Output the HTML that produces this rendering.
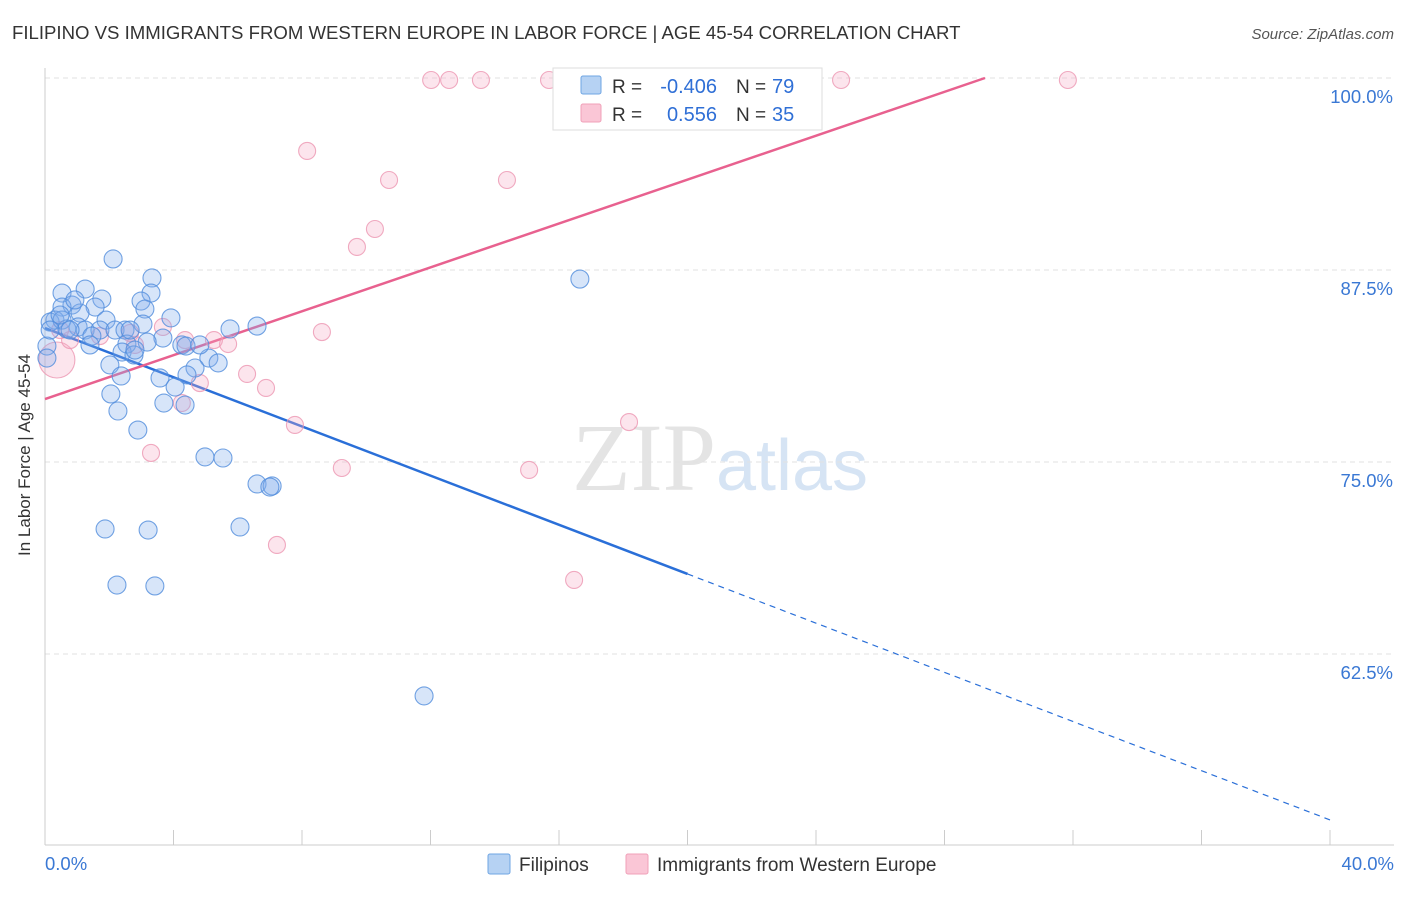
<!DOCTYPE html>
<html><head><meta charset="utf-8"><style>
body{margin:0;background:#fff;font-family:"Liberation Sans",sans-serif;}
</style></head><body>
<svg width="1406" height="892" xmlns="http://www.w3.org/2000/svg">
<text x="12" y="39" font-size="18.6" fill="#333">FILIPINO VS IMMIGRANTS FROM WESTERN EUROPE IN LABOR FORCE | AGE 45-54 CORRELATION CHART</text>
<text x="1394" y="39" font-size="15" fill="#555" text-anchor="end" font-style="italic">Source: ZipAtlas.com</text>
<text x="720" y="490" font-size="96" fill="#e4e4e4" text-anchor="middle" font-family="Liberation Serif,serif">ZIP<tspan fill="#d6e4f4" font-family="Liberation Sans,sans-serif" font-size="72">atlas</tspan></text>
<g id="grid"></g>
<g id="axes"></g>
<g id="trend"></g>
<g id="pts"></g>
<text x="30" y="455" font-size="17" fill="#333" text-anchor="middle" transform="rotate(-90 30 455)">In Labor Force | Age 45-54</text>
<g>
<rect x="553" y="68" width="269" height="62" fill="#fff" stroke="#ddd"/>
<rect x="581" y="76" width="20" height="18" fill="#b6d2f3" stroke="#6fa5e3" rx="2"/>
<rect x="581" y="104" width="20" height="18" fill="#fac6d6" stroke="#f0a0b8" rx="2"/>
<text x="612" y="93" font-size="19" fill="#333">R =</text>
<text x="717" y="93" font-size="20" fill="#2f6fd6" text-anchor="end">-0.406</text>
<text x="736" y="93" font-size="19" fill="#333">N =</text>
<text x="772" y="93" font-size="20" fill="#2f6fd6">79</text>
<text x="612" y="121" font-size="19" fill="#333">R =</text>
<text x="717" y="121" font-size="20" fill="#2f6fd6" text-anchor="end">0.556</text>
<text x="736" y="121" font-size="19" fill="#333">N =</text>
<text x="772" y="121" font-size="20" fill="#2f6fd6">35</text>
</g>
<g>
<rect x="488" y="854" width="22" height="20" fill="#b6d2f3" stroke="#6fa5e3" rx="2"/>
<text x="519" y="871" font-size="19" fill="#333">Filipinos</text>
<rect x="626" y="854" width="22" height="20" fill="#fac6d6" stroke="#f0a0b8" rx="2"/>
<text x="657" y="871" font-size="19" fill="#333">Immigrants from Western Europe</text>
</g>
</svg>
<script>
const xTicks=[0,4,8,12,16,20,24,28,32,36,40];
const yTicks=[62.5,75,87.5,100];
const blueX=[2.12,3.33,16.65,0.53,1.25,3.30,1.77,2.99,0.84,1.56,0.53,3.11,3.92,1.09,1.90,0.31,0.16,0.53,1.03,0.68,1.25,1.71,2.18,2.49,3.05,5.76,6.60,3.67,1.46,3.18,2.55,4.26,4.39,2.40,2.77,0.06,0.06,5.10,5.39,2.02,4.67,4.42,2.37,3.58,4.05,2.05,3.70,4.36,2.27,2.89,4.98,5.54,6.60,7.07,7.00,1.87,3.21,6.07,2.24,3.42,11.80,0.16,0.78,2.65,1.40,4.82,0.47,0.93,2.80];
const blueY=[88.22,86.98,86.91,86.0,86.26,86.0,85.61,85.48,85.22,85.09,85.09,84.96,84.38,84.70,84.24,84.24,84.11,84.24,83.79,83.66,83.59,83.59,83.59,83.59,83.98,83.66,83.85,83.07,83.20,82.81,82.68,82.62,82.55,82.16,81.97,82.55,81.77,81.77,81.45,81.32,81.12,80.67,80.60,80.47,79.88,79.43,78.84,78.71,78.32,77.08,75.33,75.26,73.57,73.44,73.37,70.64,70.57,70.77,66.99,66.93,59.77,83.59,83.59,83.59,82.62,82.62,84.57,85.55,82.29];
const pinkX=[12.02,12.58,13.57,15.69,21.07,21.88,24.78,31.84,8.16,10.71,14.38,10.27,9.71,0.37,3.67,5.26,5.70,8.62,6.29,6.88,4.82,4.26,7.78,9.24,15.07,18.18,3.30,7.22,16.47,0.78,2.80,0.47,2.65,1.71,4.36];
const pinkY=[99.87,99.87,99.87,99.87,99.87,99.87,99.87,99.87,95.25,93.36,93.36,90.17,89.0,81.64,83.79,82.94,82.68,83.46,80.73,79.82,80.14,78.84,77.41,74.61,74.48,77.6,75.59,69.6,67.32,82.94,82.62,83.59,83.40,83.20,82.94];
const pinkBig=[13];
const blueTrend=[83.72,51.7];
const pinkTrend=[79.1,100,29.26];
const NS="http://www.w3.org/2000/svg";
const X=v=>45+v/40*1285, Y=v=>78+(100-v)/12.5*192;
function mk(t,a,p){const e=document.createElementNS(NS,t);for(const k in a)e.setAttribute(k,a[k]);document.getElementById(p).appendChild(e);return e;}
yTicks.forEach(t=>{
 const l=mk('line',{x1:45,x2:1394,y1:Y(t),y2:Y(t),stroke:'#e2e2e2','stroke-dasharray':'5,4'},'grid');
 
 
 const tx=mk('text',{x:1393,y:Y(t)+25,'font-size':18.5,fill:'#3a78d4','text-anchor':'end'},'axes');
 tx.textContent=t.toFixed(1)+'%';
 
 
});
mk('line',{x1:45,x2:45,y1:68,y2:845,stroke:'#ccc'},'axes');
mk('line',{x1:45,x2:1394,y1:845,y2:845,stroke:'#ccc'},'axes');
xTicks.forEach(t=>{
 const l=mk('line',{x1:X(t),x2:X(t),y1:830,y2:845,stroke:'#ccc'},'axes');
 
 
});
[[0,'start',45],[40,'end',1394]].forEach(([v,a,x])=>{
 const tx=mk('text',{x:x,y:870,'font-size':18.5,fill:'#3a78d4','text-anchor':a},'axes');
 tx.textContent=v.toFixed(1)+'%';
 
 
});
const bAt=x=>blueTrend[0]+(blueTrend[1]-blueTrend[0])*x/40;
let bl=mk('line',{x1:X(0),y1:Y(bAt(0)),x2:X(20),y2:Y(bAt(20)),stroke:'#2a6fd8','stroke-width':2.5},'trend');


let bd=mk('line',{x1:X(20),y1:Y(bAt(20)),x2:X(40),y2:Y(bAt(40)),stroke:'#2a6fd8','stroke-width':1.2,'stroke-dasharray':'6,5'},'trend');


let pl=mk('line',{x1:X(0),y1:Y(pinkTrend[0]),x2:X(pinkTrend[2]),y2:Y(pinkTrend[1]),stroke:'#e8618f','stroke-width':2.5},'trend');


pinkX.forEach((x,i)=>{
 const c=mk('circle',{cx:X(x),cy:Y(pinkY[i]),r:pinkBig.includes(i)?18:8.5,fill:'rgba(244,170,195,0.3)',stroke:'rgba(236,150,178,0.8)','stroke-width':1.1},'pts');
 
 
});
blueX.forEach((x,i)=>{
 const c=mk('circle',{cx:X(x),cy:Y(blueY[i]),r:9,fill:'rgba(130,175,235,0.32)',stroke:'rgba(80,140,220,0.8)','stroke-width':1.1},'pts');
 
 
});
</script>
</body></html>
